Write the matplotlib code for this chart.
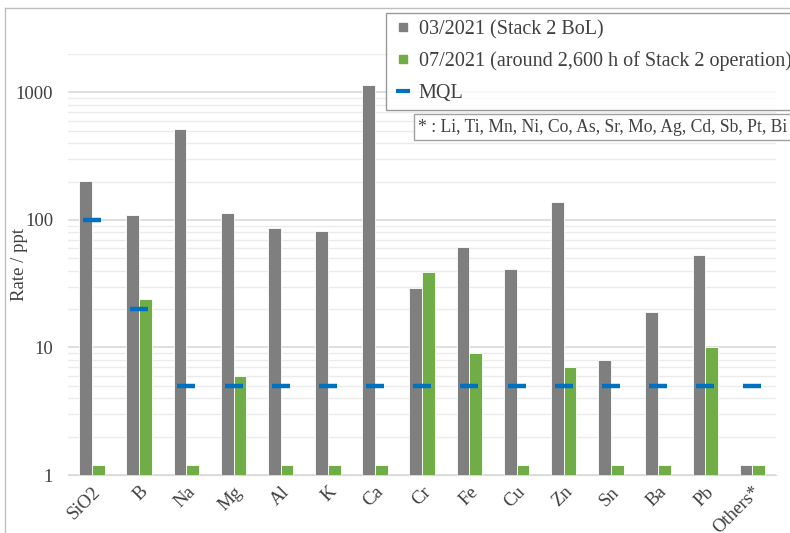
import numpy as np
import matplotlib
matplotlib.use("Agg")
from matplotlib import pyplot as plt
from matplotlib.lines import Line2D

elements = ['SiO2', 'B', 'Na', 'Mg', 'Al', 'K', 'Ca', 'Cr', 'Fe', 'Cu', 'Zn', 'Sn', 'Ba', 'Pb', 'Others*']
bol = [202, 109, 519, 113, 86, 82, 1150, 29, 61, 41, 138, 8, 19, 53, 1.2]
after = [1.2, 24, 1.2, 6, 1.2, 1.2, 1.2, 39, 9, 1.2, 7, 1.2, 1.2, 10, 1.2]
mql = [100, 20, 5, 5, 5, 5, 5, 5, 5, 5, 5, 5, 5, 5, 5]

plt.rcParams['font.family'] = ['Liberation Serif', 'DejaVu Serif']

gray = '#7F7F7F'
green = '#70AD47'
blue = '#0070C0'

fig = plt.figure(figsize=(7.9, 5.33), dpi=100)
ax = fig.add_axes([0.0866, 0.1088, 0.8957, 0.7899])

x = np.arange(len(elements))
w = 0.27
ax.bar(x - w / 2, bol, w, bottom=0, color=gray, edgecolor='white', linewidth=0.6, zorder=3)
ax.bar(x + w / 2, after, w, bottom=0, color=green, edgecolor='white', linewidth=0.6, zorder=3)
ax.plot(x, mql, linestyle='none', marker='_', markersize=13, markeredgewidth=3.2, color=blue, zorder=4)

ax.set_yscale('log')
ax.set_ylim(1, 2000)
ax.set_xlim(-0.5, len(elements) - 0.5)
ax.set_yticks([1, 10, 100, 1000])
ax.set_yticklabels(['1', '10', '100', '1000'])
ax.yaxis.set_minor_formatter(matplotlib.ticker.NullFormatter())
ax.grid(True, which='major', axis='y', color='#D9D9D9', linewidth=1.2, zorder=0)
ax.grid(True, which='minor', axis='y', color='#EBEBEB', linewidth=1.0, zorder=0)
ax.tick_params(axis='both', which='both', length=0, labelsize=13.5, colors='#404040')
ax.tick_params(axis='y', pad=11)
ax.set_xticks(x)
ax.set_xticklabels(elements, rotation=45, ha='right', rotation_mode='anchor')
ax.tick_params(axis='x', pad=6)
for s in ['top', 'right', 'left']:
    ax.spines[s].set_visible(False)
ax.spines['bottom'].set_color('#D9D9D9')
ax.set_ylabel('Rate / ppt', fontsize=13.5, color='#404040')
ax.yaxis.set_label_coords(-0.057, 0.5)

handles = [
    Line2D([], [], linestyle='none', marker='s', markersize=6, color=gray),
    Line2D([], [], linestyle='none', marker='s', markersize=6, color=green),
    Line2D([], [], linestyle='none', marker='_', markersize=10, markeredgewidth=3, color=blue),
]
labels = ['03/2021 (Stack 2 BoL)', '07/2021 (around 2,600 h of Stack 2 operation)', 'MQL']
leg = fig.legend(handles, labels, loc='upper left', bbox_to_anchor=(0.489, 0.976),
                 borderaxespad=0, fontsize=14.5, frameon=True, fancybox=False,
                 edgecolor='#808080', handlelength=1.0, handletextpad=0.25,
                 labelspacing=0.62, borderpad=0.35, labelcolor='#404040')
leg.get_frame().set_linewidth(1.0)

fig.text(0.529, 0.761, '* : Li, Ti, Mn, Ni, Co, As, Sr, Mo, Ag, Cd, Sb, Pt, Bi',
         fontsize=12.7, color='#404040', va='center', ha='left',
         bbox=dict(boxstyle='square,pad=0.25', facecolor='white', edgecolor='#A0A0A0', linewidth=1.0))

# chart frame (cropped on right/bottom)
fig.add_artist(Line2D([5 / 790, 5 / 790], [0, 1 - 8 / 533], transform=fig.transFigure, color='#BFBFBF', linewidth=1))
fig.add_artist(Line2D([5 / 790, 1], [1 - 8 / 533, 1 - 8 / 533], transform=fig.transFigure, color='#BFBFBF', linewidth=1))

fig.savefig('out.png', dpi=100)
